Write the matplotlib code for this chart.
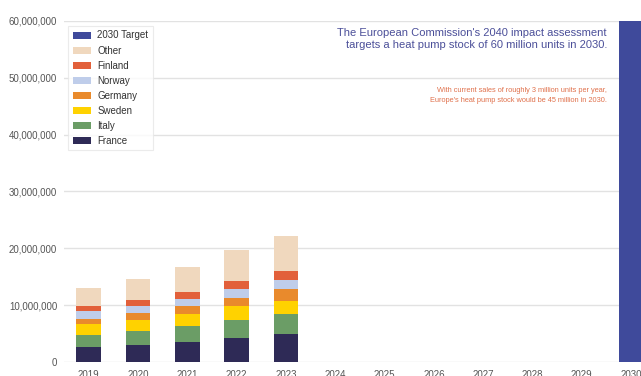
import matplotlib
import matplotlib.pyplot as plt
import numpy as np
from matplotlib.ticker import FuncFormatter

matplotlib.use('Agg')
plt.rcParams['font.family'] = ['Liberation Sans', 'DejaVu Sans']

# heat pump stock by country, millions of units
years = ['2019', '2020', '2021', '2022', '2023', '2024', '2025', '2026', '2027', '2028', '2029', '2030']
stock_years = years[:5]
france = [2.63, 3.04, 3.50, 4.27, 4.85]
italy = [2.05, 2.34, 2.76, 3.16, 3.51]
sweden = [1.92, 2.05, 2.10, 2.34, 2.46]
germany = [1.00, 1.17, 1.41, 1.52, 1.98]
norway = [1.30, 1.28, 1.28, 1.63, 1.64]
finland = [1.04, 1.06, 1.35, 1.35, 1.64]
other = [3.16, 3.66, 4.27, 5.43, 6.12]
target_2030 = 60.0

series = [
    ('France', france, '#2E2A56'),
    ('Italy', italy, '#6B9D66'),
    ('Sweden', sweden, '#FFD200'),
    ('Germany', germany, '#E98A2C'),
    ('Norway', norway, '#BFCDEA'),
    ('Finland', finland, '#E2603A'),
    ('Other', other, '#F0D8BE'),
]

fig = plt.figure(figsize=(6.41, 3.76), dpi=100, facecolor='white')
ax = fig.add_axes([0.1, 0.0372, 0.923, 0.907])

x = np.arange(len(years))
width = 0.5
bottom = np.zeros(len(stock_years))
handles = {}
for name, vals, color in series:
    vals = np.array(vals) * 1e6
    h = ax.bar(x[:5], vals, width, bottom=bottom, color=color, label=name, zorder=2)
    handles[name] = h
    bottom += vals

handles['2030 Target'] = ax.bar(x[-1], target_2030 * 1e6, width, color='#3F4A9B',
                                label='2030 Target', zorder=2)

ax.set_xlim(-0.5, len(years) - 0.5)
ax.set_ylim(0, 60e6)
ax.set_yticks(np.arange(0, 60e6 + 1, 10e6))
ax.yaxis.set_major_formatter(FuncFormatter(lambda v, p: f'{int(v):,}'))
ax.set_xticks(x)
ax.set_xticklabels(years)
ax.tick_params(axis='both', length=0, labelsize=7, labelcolor='#555555')
ax.tick_params(axis='x', pad=6)
ax.tick_params(axis='y', pad=5)
ax.grid(axis='y', color='#E2E2E2', linewidth=1.0, zorder=0)
for s in ax.spines.values():
    s.set_visible(False)

order = ['2030 Target', 'Other', 'Finland', 'Norway', 'Germany', 'Sweden', 'Italy', 'France']
leg = ax.legend([handles[n] for n in order], order, loc='upper left',
                bbox_to_anchor=(0.007, 0.985), borderaxespad=0, fontsize=7,
                frameon=True, handlelength=1.9, handleheight=0.75,
                labelspacing=0.52, borderpad=0.45, handletextpad=0.65,
                fancybox=False)
leg.get_frame().set_edgecolor('#E6E6E6')
leg.get_frame().set_linewidth(0.8)
for t in leg.get_texts():
    t.set_color('#333333')

# annotations sit just left of the 2030 bar
ax.text(10.51, 56.8e6, "The European Commission's 2040 impact assessment\n"
        "targets a heat pump stock of 60 million units in 2030.",
        ha='right', va='center', fontsize=8.0, color='#4B4F99', linespacing=1.3)
ax.text(10.51, 46.9e6, 'With current sales of roughly 3 million units per year,\n'
        "Europe's heat pump stock would be 45 million in 2030.",
        ha='right', va='center', fontsize=5.3, color='#E0714C', linespacing=1.5)

fig.savefig('out.png', dpi=100)
